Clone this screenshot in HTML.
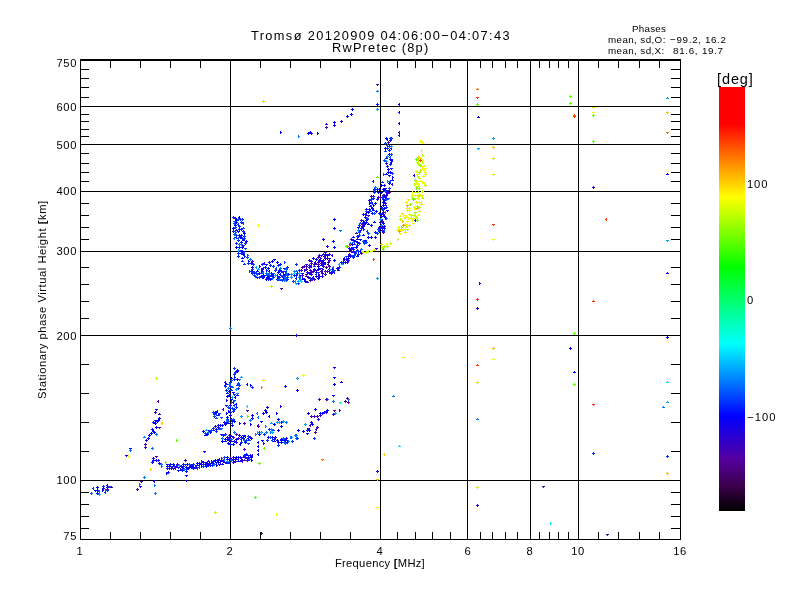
<!DOCTYPE html>
<html><head><meta charset="utf-8"><title>ionogram</title>
<style>
html,body{margin:0;padding:0;background:#fff;}
body{width:800px;height:600px;position:relative;overflow:hidden;font-family:"Liberation Sans",sans-serif;color:#000;}
svg{position:absolute;left:0;top:0;}
.t{position:absolute;white-space:pre;line-height:1;}
.t,.yl,.xl{will-change:transform;}
.yl{position:absolute;white-space:pre;line-height:1;font-size:11.2px;text-align:right;width:60px;left:16.7px;letter-spacing:0.6px;}
.xl{position:absolute;white-space:pre;line-height:1;font-size:11.2px;text-align:center;width:40px;top:545.5px;letter-spacing:0.6px;margin-left:0.3px;}
.cb{position:absolute;left:719px;top:87px;width:26px;height:424px;
background:linear-gradient(to bottom,#ff0000 0px,#ff0000 37px,#ff8000 73px,#ffff00 110px,#80ff00 146px,#00ff00 180px,#00ff80 219px,#00ffff 257px,#0080ff 293px,#0000ff 329px,#5500a0 372px,#3a0048 400px,#000000 424px);}
</style></head><body>
<svg width="800" height="600" viewBox="0 0 800 600" shape-rendering="crispEdges">
<rect x="80" y="59" width="601" height="2" fill="#000"/>
<rect x="80" y="539" width="601" height="1" fill="#000"/>
<rect x="80" y="59" width="1" height="481" fill="#000"/>
<rect x="680" y="59" width="1" height="481" fill="#000"/>
<rect x="230" y="59" width="1" height="481" fill="#000"/>
<rect x="380" y="59" width="1" height="481" fill="#000"/>
<rect x="467" y="59" width="1" height="481" fill="#000"/>
<rect x="530" y="59" width="1" height="481" fill="#000"/>
<rect x="578" y="59" width="1" height="481" fill="#000"/>
<rect x="80" y="480" width="601" height="1" fill="#000"/>
<rect x="80" y="335" width="601" height="1" fill="#000"/>
<rect x="80" y="251" width="601" height="1" fill="#000"/>
<rect x="80" y="191" width="601" height="1" fill="#000"/>
<rect x="80" y="144" width="601" height="1" fill="#000"/>
<rect x="80" y="106" width="601" height="1" fill="#000"/>
<rect x="110" y="61" width="1" height="7" fill="#000"/>
<rect x="110" y="532" width="1" height="7" fill="#000"/>
<rect x="140" y="61" width="1" height="7" fill="#000"/>
<rect x="140" y="532" width="1" height="7" fill="#000"/>
<rect x="170" y="61" width="1" height="7" fill="#000"/>
<rect x="170" y="532" width="1" height="7" fill="#000"/>
<rect x="200" y="61" width="1" height="7" fill="#000"/>
<rect x="200" y="532" width="1" height="7" fill="#000"/>
<rect x="260" y="61" width="1" height="7" fill="#000"/>
<rect x="260" y="532" width="1" height="7" fill="#000"/>
<rect x="290" y="61" width="1" height="7" fill="#000"/>
<rect x="290" y="532" width="1" height="7" fill="#000"/>
<rect x="320" y="61" width="1" height="7" fill="#000"/>
<rect x="320" y="532" width="1" height="7" fill="#000"/>
<rect x="350" y="61" width="1" height="7" fill="#000"/>
<rect x="350" y="532" width="1" height="7" fill="#000"/>
<rect x="397" y="61" width="1" height="7" fill="#000"/>
<rect x="397" y="532" width="1" height="7" fill="#000"/>
<rect x="415" y="61" width="1" height="7" fill="#000"/>
<rect x="415" y="532" width="1" height="7" fill="#000"/>
<rect x="432" y="61" width="1" height="7" fill="#000"/>
<rect x="432" y="532" width="1" height="7" fill="#000"/>
<rect x="450" y="61" width="1" height="7" fill="#000"/>
<rect x="450" y="532" width="1" height="7" fill="#000"/>
<rect x="480" y="61" width="1" height="7" fill="#000"/>
<rect x="480" y="532" width="1" height="7" fill="#000"/>
<rect x="492" y="61" width="1" height="7" fill="#000"/>
<rect x="492" y="532" width="1" height="7" fill="#000"/>
<rect x="505" y="61" width="1" height="7" fill="#000"/>
<rect x="505" y="532" width="1" height="7" fill="#000"/>
<rect x="517" y="61" width="1" height="7" fill="#000"/>
<rect x="517" y="532" width="1" height="7" fill="#000"/>
<rect x="539" y="61" width="1" height="7" fill="#000"/>
<rect x="539" y="532" width="1" height="7" fill="#000"/>
<rect x="549" y="61" width="1" height="7" fill="#000"/>
<rect x="549" y="532" width="1" height="7" fill="#000"/>
<rect x="558" y="61" width="1" height="7" fill="#000"/>
<rect x="558" y="532" width="1" height="7" fill="#000"/>
<rect x="568" y="61" width="1" height="7" fill="#000"/>
<rect x="568" y="532" width="1" height="7" fill="#000"/>
<rect x="598" y="61" width="1" height="7" fill="#000"/>
<rect x="598" y="532" width="1" height="7" fill="#000"/>
<rect x="618" y="61" width="1" height="7" fill="#000"/>
<rect x="618" y="532" width="1" height="7" fill="#000"/>
<rect x="639" y="61" width="1" height="7" fill="#000"/>
<rect x="639" y="532" width="1" height="7" fill="#000"/>
<rect x="659" y="61" width="1" height="7" fill="#000"/>
<rect x="659" y="532" width="1" height="7" fill="#000"/>
<rect x="81" y="528" width="8" height="1" fill="#000"/>
<rect x="671" y="528" width="9" height="1" fill="#000"/>
<rect x="81" y="516" width="8" height="1" fill="#000"/>
<rect x="671" y="516" width="9" height="1" fill="#000"/>
<rect x="81" y="504" width="8" height="1" fill="#000"/>
<rect x="671" y="504" width="9" height="1" fill="#000"/>
<rect x="81" y="492" width="8" height="1" fill="#000"/>
<rect x="671" y="492" width="9" height="1" fill="#000"/>
<rect x="81" y="451" width="8" height="1" fill="#000"/>
<rect x="671" y="451" width="9" height="1" fill="#000"/>
<rect x="81" y="422" width="8" height="1" fill="#000"/>
<rect x="671" y="422" width="9" height="1" fill="#000"/>
<rect x="81" y="393" width="8" height="1" fill="#000"/>
<rect x="671" y="393" width="9" height="1" fill="#000"/>
<rect x="81" y="364" width="8" height="1" fill="#000"/>
<rect x="671" y="364" width="9" height="1" fill="#000"/>
<rect x="81" y="318" width="8" height="1" fill="#000"/>
<rect x="671" y="318" width="9" height="1" fill="#000"/>
<rect x="81" y="301" width="8" height="1" fill="#000"/>
<rect x="671" y="301" width="9" height="1" fill="#000"/>
<rect x="81" y="284" width="8" height="1" fill="#000"/>
<rect x="671" y="284" width="9" height="1" fill="#000"/>
<rect x="81" y="267" width="8" height="1" fill="#000"/>
<rect x="671" y="267" width="9" height="1" fill="#000"/>
<rect x="81" y="239" width="8" height="1" fill="#000"/>
<rect x="671" y="239" width="9" height="1" fill="#000"/>
<rect x="81" y="227" width="8" height="1" fill="#000"/>
<rect x="671" y="227" width="9" height="1" fill="#000"/>
<rect x="81" y="215" width="8" height="1" fill="#000"/>
<rect x="671" y="215" width="9" height="1" fill="#000"/>
<rect x="81" y="203" width="8" height="1" fill="#000"/>
<rect x="671" y="203" width="9" height="1" fill="#000"/>
<rect x="81" y="181" width="8" height="1" fill="#000"/>
<rect x="671" y="181" width="9" height="1" fill="#000"/>
<rect x="81" y="172" width="8" height="1" fill="#000"/>
<rect x="671" y="172" width="9" height="1" fill="#000"/>
<rect x="81" y="163" width="8" height="1" fill="#000"/>
<rect x="671" y="163" width="9" height="1" fill="#000"/>
<rect x="81" y="153" width="8" height="1" fill="#000"/>
<rect x="671" y="153" width="9" height="1" fill="#000"/>
<rect x="81" y="136" width="8" height="1" fill="#000"/>
<rect x="671" y="136" width="9" height="1" fill="#000"/>
<rect x="81" y="129" width="8" height="1" fill="#000"/>
<rect x="671" y="129" width="9" height="1" fill="#000"/>
<rect x="81" y="121" width="8" height="1" fill="#000"/>
<rect x="671" y="121" width="9" height="1" fill="#000"/>
<rect x="81" y="114" width="8" height="1" fill="#000"/>
<rect x="671" y="114" width="9" height="1" fill="#000"/>
<rect x="81" y="97" width="8" height="1" fill="#000"/>
<rect x="671" y="97" width="9" height="1" fill="#000"/>
<rect x="81" y="87" width="8" height="1" fill="#000"/>
<rect x="671" y="87" width="9" height="1" fill="#000"/>
<rect x="81" y="78" width="8" height="1" fill="#000"/>
<rect x="671" y="78" width="9" height="1" fill="#000"/>
<rect x="81" y="69" width="8" height="1" fill="#000"/>
<rect x="671" y="69" width="9" height="1" fill="#000"/>
<path fill="#b4ff00" d="M262 101h3v1h-3zM263 100h1v3h-1zM492 158h3v1h-3zM493 157h1v3h-1zM492 174h3v1h-3zM493 175h1v1h-1zM476 382h3v1h-3zM477 381h1v3h-1zM476 487h3v1h-3zM477 486h1v3h-1zM214 512h3v1h-3zM215 511h1v3h-1zM270 286h3v1h-3zM271 285h1v3h-1zM155 378h3v1h-3zM156 377h1v3h-1zM365 252h3v1h-3zM366 251h1v3h-1zM368 250h1v3h-1zM367 251h1v1h-1zM374 249h3v1h-3zM375 248h1v3h-1zM381 247h3v1h-3zM382 246h1v3h-1zM383 246h3v1h-3zM384 245h1v3h-1zM386 246h3v1h-3zM387 245h1v3h-1zM390 242h1v3h-1zM391 243h1v1h-1zM422 161h1v3h-1zM423 162h1v1h-1zM414 198h3v1h-3zM415 199h1v1h-1zM405 227h3v1h-3zM406 226h1v1h-1zM399 219h3v1h-3zM400 218h1v3h-1zM414 183h1v3h-1zM415 184h1v1h-1zM417 164h3v1h-3zM418 163h1v3h-1zM406 229h3v1h-3zM407 230h1v1h-1zM424 185h3v1h-3zM425 184h1v3h-1zM417 192h3v1h-3zM418 191h1v1h-1zM416 206h3v1h-3zM417 205h1v3h-1zM417 176h3v1h-3zM418 177h1v1h-1zM420 169h1v3h-1zM421 170h1v1h-1zM411 197h3v1h-3zM412 196h1v3h-1zM413 215h3v1h-3zM414 214h1v3h-1zM410 215h3v1h-3zM411 214h1v3h-1zM415 217h3v1h-3zM416 216h1v3h-1zM417 196h3v1h-3zM418 195h1v3h-1zM418 207h3v1h-3zM419 206h1v3h-1zM421 191h3v1h-3zM422 190h1v3h-1zM416 186h3v1h-3zM417 187h1v1h-1z"/>
<path fill="#0000ff" d="M280 131h1v3h-1zM281 132h1v1h-1zM307 133h3v1h-3zM308 132h1v3h-1zM309 132h3v1h-3zM310 131h1v3h-1zM317 132h1v3h-1zM318 133h1v1h-1zM333 122h3v1h-3zM334 121h1v3h-1zM346 116h3v1h-3zM347 115h1v3h-1zM350 114h3v1h-3zM351 113h1v3h-1zM351 109h3v1h-3zM352 108h1v3h-1zM376 104h3v1h-3zM377 103h1v3h-1zM399 103h1v3h-1zM398 104h1v1h-1zM399 111h1v3h-1zM398 112h1v1h-1zM399 122h1v3h-1zM398 123h1v1h-1zM387 138h1v3h-1zM386 139h1v1h-1zM391 137h1v3h-1zM392 138h1v1h-1zM477 117h3v1h-3zM478 116h1v1h-1zM666 174h3v1h-3zM667 173h1v1h-1zM479 282h1v3h-1zM480 283h1v1h-1zM569 348h3v1h-3zM570 347h1v3h-1zM666 273h3v1h-3zM667 272h1v1h-1zM573 372h3v1h-3zM574 371h1v1h-1zM666 337h3v1h-3zM667 336h1v3h-1zM295 335h3v1h-3zM296 334h1v3h-1zM333 260h3v1h-3zM334 259h1v3h-1zM284 386h3v1h-3zM285 385h1v3h-1zM296 390h3v1h-3zM297 389h1v3h-1zM333 367h3v1h-3zM334 368h1v1h-1zM333 377h3v1h-3zM334 378h1v1h-1zM333 384h3v1h-3zM334 383h1v3h-1zM340 382h3v1h-3zM341 381h1v1h-1zM332 395h3v1h-3zM333 396h1v1h-1zM333 219h3v1h-3zM334 218h1v3h-1zM333 228h3v1h-3zM334 227h1v3h-1zM322 239h3v1h-3zM323 238h1v3h-1zM332 241h3v1h-3zM333 240h1v3h-1zM333 247h3v1h-3zM334 246h1v3h-1zM147 438h3v1h-3zM148 437h1v3h-1zM148 435h3v1h-3zM149 434h1v3h-1zM150 433h3v1h-3zM151 432h1v3h-1zM152 431h3v1h-3zM153 430h1v3h-1zM153 432h3v1h-3zM154 431h1v3h-1zM151 429h3v1h-3zM152 428h1v3h-1zM155 427h3v1h-3zM156 426h1v3h-1zM152 422h3v1h-3zM153 421h1v3h-1zM154 423h3v1h-3zM155 422h1v3h-1zM156 421h3v1h-3zM157 420h1v3h-1zM154 420h3v1h-3zM155 421h1v1h-1zM158 418h3v1h-3zM159 417h1v3h-1zM157 420h3v1h-3zM158 419h1v3h-1zM155 409h3v1h-3zM156 410h1v1h-1zM152 460h3v1h-3zM153 459h1v3h-1zM151 462h3v1h-3zM152 461h1v3h-1zM155 460h3v1h-3zM156 459h1v3h-1zM158 463h3v1h-3zM159 462h1v3h-1zM185 471h3v1h-3zM186 470h1v3h-1zM185 475h3v1h-3zM186 476h1v1h-1zM185 480h3v1h-3zM186 481h1v1h-1zM166 472h1v3h-1zM167 473h1v1h-1zM167 472h3v1h-3zM168 471h1v3h-1zM129 448h3v1h-3zM130 449h1v1h-1zM125 455h3v1h-3zM126 456h1v1h-1zM203 451h3v1h-3zM204 452h1v1h-1zM225 381h1v3h-1zM224 382h1v1h-1zM225 384h1v3h-1zM224 385h1v1h-1zM247 383h1v3h-1zM246 384h1v1h-1zM250 384h1v3h-1zM251 385h1v1h-1zM251 415h3v1h-3zM252 414h1v3h-1zM251 418h3v1h-3zM252 417h1v3h-1zM239 422h1v3h-1zM240 423h1v1h-1zM260 421h3v1h-3zM261 422h1v1h-1zM266 407h3v1h-3zM267 406h1v3h-1zM264 410h3v1h-3zM265 409h1v3h-1zM265 412h3v1h-3zM266 411h1v3h-1zM262 413h3v1h-3zM263 412h1v3h-1zM269 415h1v3h-1zM268 416h1v1h-1zM276 412h1v3h-1zM277 413h1v1h-1zM277 419h3v1h-3zM278 418h1v3h-1zM280 422h3v1h-3zM281 421h1v3h-1zM273 424h3v1h-3zM274 423h1v3h-1zM280 426h3v1h-3zM281 425h1v3h-1zM314 409h3v1h-3zM315 408h1v3h-1zM307 413h3v1h-3zM308 412h1v3h-1zM319 413h3v1h-3zM320 412h1v3h-1zM323 412h3v1h-3zM324 411h1v3h-1zM325 411h3v1h-3zM326 410h1v3h-1zM326 410h3v1h-3zM327 409h1v3h-1zM311 424h3v1h-3zM312 423h1v3h-1zM302 431h3v1h-3zM303 430h1v3h-1zM298 429h1v3h-1zM299 430h1v1h-1zM308 430h3v1h-3zM309 429h1v3h-1zM306 433h3v1h-3zM307 434h1v1h-1zM280 439h3v1h-3zM281 438h1v3h-1zM282 438h3v1h-3zM283 437h1v3h-1zM284 440h3v1h-3zM285 439h1v3h-1zM285 438h3v1h-3zM286 437h1v3h-1zM286 442h3v1h-3zM287 441h1v3h-1zM297 430h3v1h-3zM298 429h1v3h-1zM277 430h3v1h-3zM278 429h1v3h-1zM258 441h1v3h-1zM257 442h1v1h-1zM258 445h1v3h-1zM257 446h1v1h-1zM258 449h1v3h-1zM257 450h1v1h-1zM258 453h1v3h-1zM257 454h1v1h-1zM261 440h3v1h-3zM262 441h1v1h-1zM239 216h1v3h-1zM238 217h1v1h-1zM235 220h3v1h-3zM236 219h1v1h-1zM240 242h3v1h-3zM241 241h1v3h-1zM236 236h1v3h-1zM235 237h1v1h-1zM234 225h3v1h-3zM235 224h1v3h-1zM243 233h3v1h-3zM244 232h1v3h-1zM235 247h3v1h-3zM236 246h1v3h-1zM232 228h3v1h-3zM233 227h1v3h-1zM235 222h3v1h-3zM236 221h1v3h-1zM242 240h3v1h-3zM243 239h1v1h-1zM238 229h3v1h-3zM239 228h1v3h-1zM239 237h3v1h-3zM240 236h1v3h-1zM238 235h3v1h-3zM239 234h1v3h-1zM241 247h3v1h-3zM242 246h1v3h-1zM235 230h3v1h-3zM236 229h1v1h-1zM237 231h3v1h-3zM238 232h1v1h-1zM245 241h3v1h-3zM246 240h1v3h-1zM241 258h3v1h-3zM242 257h1v1h-1zM251 267h3v1h-3zM252 266h1v3h-1zM241 251h3v1h-3zM242 250h1v3h-1zM248 260h1v3h-1zM249 261h1v1h-1zM250 263h3v1h-3zM251 262h1v3h-1zM242 254h3v1h-3zM243 253h1v3h-1zM278 277h3v1h-3zM279 276h1v1h-1zM267 268h3v1h-3zM268 267h1v3h-1zM266 269h1v3h-1zM267 270h1v1h-1zM280 273h1v3h-1zM279 274h1v1h-1zM269 270h1v3h-1zM268 271h1v1h-1zM277 272h3v1h-3zM278 271h1v3h-1zM276 262h3v1h-3zM277 261h1v3h-1zM287 274h3v1h-3zM288 273h1v3h-1zM263 267h1v3h-1zM262 268h1v1h-1zM263 275h3v1h-3zM264 276h1v1h-1zM256 271h3v1h-3zM257 270h1v1h-1zM267 278h3v1h-3zM268 277h1v3h-1zM261 275h1v3h-1zM260 276h1v1h-1zM270 273h3v1h-3zM271 272h1v1h-1zM273 259h3v1h-3zM274 260h1v1h-1zM264 267h3v1h-3zM265 266h1v3h-1zM282 279h3v1h-3zM283 278h1v3h-1zM271 261h3v1h-3zM272 260h1v3h-1zM269 279h3v1h-3zM270 278h1v3h-1zM270 279h3v1h-3zM271 278h1v1h-1zM272 277h3v1h-3zM273 276h1v3h-1zM253 273h3v1h-3zM254 272h1v3h-1zM281 276h3v1h-3zM282 275h1v3h-1zM276 279h3v1h-3zM277 278h1v3h-1zM266 277h3v1h-3zM267 276h1v3h-1zM262 275h3v1h-3zM263 274h1v3h-1zM261 271h3v1h-3zM262 270h1v3h-1zM258 273h3v1h-3zM259 272h1v3h-1zM256 277h3v1h-3zM257 278h1v1h-1zM315 276h3v1h-3zM316 275h1v3h-1zM322 268h1v3h-1zM323 269h1v1h-1zM326 255h3v1h-3zM327 254h1v3h-1zM304 281h3v1h-3zM305 280h1v3h-1zM322 262h3v1h-3zM323 261h1v3h-1zM301 273h3v1h-3zM302 274h1v1h-1zM317 269h3v1h-3zM318 268h1v3h-1zM320 265h3v1h-3zM321 264h1v1h-1zM315 261h1v3h-1zM314 262h1v1h-1zM308 273h3v1h-3zM309 272h1v3h-1zM328 258h3v1h-3zM329 259h1v1h-1zM303 279h3v1h-3zM304 278h1v3h-1zM318 260h3v1h-3zM319 259h1v3h-1zM317 266h3v1h-3zM318 265h1v3h-1zM312 258h3v1h-3zM313 257h1v3h-1zM315 259h3v1h-3zM316 258h1v3h-1zM316 271h1v3h-1zM315 272h1v1h-1zM317 278h3v1h-3zM318 277h1v3h-1zM356 256h3v1h-3zM357 255h1v1h-1zM359 251h3v1h-3zM360 250h1v3h-1zM337 270h3v1h-3zM338 269h1v1h-1zM342 262h3v1h-3zM343 261h1v3h-1zM344 257h1v3h-1zM343 258h1v1h-1zM352 249h3v1h-3zM353 248h1v3h-1zM375 211h3v1h-3zM376 210h1v3h-1zM366 213h1v3h-1zM365 214h1v1h-1zM380 214h3v1h-3zM381 213h1v3h-1zM372 212h1v3h-1zM371 213h1v1h-1zM373 222h3v1h-3zM374 221h1v1h-1zM374 203h3v1h-3zM375 202h1v3h-1zM359 239h3v1h-3zM360 240h1v1h-1zM382 205h3v1h-3zM383 204h1v3h-1zM370 225h3v1h-3zM371 224h1v3h-1zM370 237h3v1h-3zM371 236h1v3h-1zM366 219h3v1h-3zM367 218h1v3h-1zM380 219h3v1h-3zM381 220h1v1h-1zM350 248h3v1h-3zM351 247h1v3h-1zM371 208h3v1h-3zM372 207h1v3h-1zM379 230h1v3h-1zM378 231h1v1h-1zM386 210h3v1h-3zM387 211h1v1h-1zM367 237h3v1h-3zM368 236h1v3h-1zM355 247h3v1h-3zM356 246h1v3h-1zM364 223h1v3h-1zM365 224h1v1h-1zM372 210h3v1h-3zM373 209h1v1h-1zM367 224h3v1h-3zM368 223h1v1h-1zM380 227h3v1h-3zM381 226h1v3h-1zM380 225h3v1h-3zM381 224h1v3h-1zM364 240h3v1h-3zM365 241h1v1h-1zM381 222h3v1h-3zM382 221h1v3h-1zM365 220h3v1h-3zM366 219h1v3h-1zM362 214h3v1h-3zM363 213h1v3h-1zM369 202h1v3h-1zM370 203h1v1h-1zM349 244h3v1h-3zM350 243h1v3h-1zM363 220h1v3h-1zM364 221h1v1h-1zM352 243h1v3h-1zM351 244h1v1h-1zM357 227h3v1h-3zM358 228h1v1h-1zM365 222h3v1h-3zM366 221h1v3h-1zM369 206h3v1h-3zM370 205h1v1h-1zM352 237h3v1h-3zM353 236h1v1h-1zM376 189h3v1h-3zM377 188h1v3h-1zM356 242h3v1h-3zM357 241h1v3h-1zM367 212h3v1h-3zM368 211h1v3h-1zM352 240h3v1h-3zM353 239h1v3h-1zM348 248h3v1h-3zM349 247h1v3h-1zM354 241h3v1h-3zM355 240h1v1h-1zM358 232h3v1h-3zM359 231h1v3h-1zM362 226h3v1h-3zM363 225h1v3h-1zM383 196h1v3h-1zM384 197h1v1h-1zM383 200h3v1h-3zM384 199h1v3h-1zM382 205h3v1h-3zM383 204h1v3h-1zM382 202h3v1h-3zM383 201h1v3h-1zM383 208h3v1h-3zM384 207h1v3h-1zM383 226h3v1h-3zM384 225h1v3h-1zM386 193h3v1h-3zM387 192h1v3h-1zM379 227h3v1h-3zM380 228h1v1h-1zM383 190h3v1h-3zM384 189h1v3h-1zM380 207h3v1h-3zM381 206h1v3h-1zM382 223h3v1h-3zM383 222h1v3h-1zM385 191h3v1h-3zM386 190h1v3h-1zM380 216h3v1h-3zM381 215h1v3h-1zM384 148h3v1h-3zM385 147h1v3h-1zM382 199h3v1h-3zM383 198h1v3h-1zM389 159h3v1h-3zM390 158h1v3h-1zM378 189h3v1h-3zM379 188h1v3h-1zM387 172h3v1h-3zM388 171h1v3h-1zM380 185h3v1h-3zM381 184h1v3h-1zM380 192h3v1h-3zM381 191h1v3h-1zM385 174h3v1h-3zM386 173h1v1h-1zM392 159h1v3h-1zM391 160h1v1h-1zM385 158h3v1h-3zM386 157h1v1h-1zM388 183h3v1h-3zM389 182h1v3h-1zM382 189h3v1h-3zM383 188h1v3h-1zM384 188h3v1h-3zM385 189h1v1h-1zM389 140h3v1h-3zM390 139h1v3h-1zM391 161h1v3h-1zM390 162h1v1h-1zM392 176h1v3h-1zM393 177h1v1h-1zM389 172h3v1h-3zM390 171h1v3h-1zM385 138h3v1h-3zM386 137h1v3h-1zM388 154h3v1h-3zM389 153h1v3h-1zM391 147h1v3h-1zM390 148h1v1h-1zM96 487h3v1h-3zM97 486h1v3h-1zM94 490h3v1h-3zM95 491h1v1h-1zM97 489h1v3h-1zM98 490h1v1h-1zM96 493h3v1h-3zM97 492h1v3h-1zM102 488h3v1h-3zM103 487h1v3h-1zM107 484h1v3h-1zM106 485h1v1h-1zM189 465h1v3h-1zM190 466h1v1h-1zM201 465h1v3h-1zM202 466h1v1h-1zM217 462h3v1h-3zM218 461h1v3h-1zM232 459h3v1h-3zM233 458h1v3h-1zM237 461h3v1h-3zM238 460h1v1h-1zM248 457h3v1h-3zM249 458h1v1h-1zM238 458h1v3h-1zM237 459h1v1h-1zM247 455h3v1h-3zM248 456h1v1h-1zM241 458h1v3h-1zM242 459h1v1h-1zM229 459h1v3h-1zM230 460h1v1h-1zM204 464h3v1h-3zM205 463h1v3h-1zM185 467h3v1h-3zM186 466h1v3h-1zM166 464h3v1h-3zM167 465h1v1h-1zM172 464h3v1h-3zM173 463h1v3h-1zM215 462h3v1h-3zM216 463h1v1h-1zM220 460h3v1h-3zM221 459h1v3h-1zM206 463h3v1h-3zM207 462h1v3h-1zM204 462h3v1h-3zM205 463h1v1h-1zM193 465h1v3h-1zM192 466h1v1h-1zM226 459h3v1h-3zM227 458h1v3h-1zM250 457h3v1h-3zM251 456h1v3h-1zM214 460h3v1h-3zM215 459h1v3h-1zM207 465h3v1h-3zM208 464h1v3h-1zM249 455h3v1h-3zM250 454h1v3h-1zM207 461h3v1h-3zM208 460h1v1h-1zM221 464h3v1h-3zM222 463h1v1h-1zM200 464h3v1h-3zM201 463h1v3h-1zM196 463h3v1h-3zM197 462h1v3h-1zM187 468h3v1h-3zM188 467h1v3h-1zM211 463h3v1h-3zM212 462h1v3h-1zM251 459h1v3h-1zM252 460h1v1h-1zM235 457h3v1h-3zM236 456h1v3h-1zM211 460h1v3h-1zM212 461h1v1h-1zM190 465h3v1h-3zM191 464h1v3h-1zM199 464h1v3h-1zM198 465h1v1h-1zM198 463h3v1h-3zM199 462h1v1h-1zM190 467h3v1h-3zM191 466h1v3h-1zM216 464h1v3h-1zM217 465h1v1h-1zM219 458h1v3h-1zM218 459h1v1h-1zM238 456h1v3h-1zM237 457h1v1h-1zM245 454h3v1h-3zM246 453h1v3h-1zM186 464h3v1h-3zM187 463h1v3h-1zM226 457h3v1h-3zM227 456h1v3h-1zM182 467h1v3h-1zM183 468h1v1h-1zM168 468h3v1h-3zM169 467h1v3h-1zM226 393h3v1h-3zM227 392h1v1h-1zM236 403h1v3h-1zM235 404h1v1h-1zM230 378h3v1h-3zM231 377h1v3h-1zM234 376h1v3h-1zM235 377h1v1h-1zM226 417h3v1h-3zM227 416h1v3h-1zM226 396h3v1h-3zM227 395h1v3h-1zM229 415h3v1h-3zM230 414h1v3h-1zM235 396h1v3h-1zM234 397h1v1h-1zM226 419h3v1h-3zM227 418h1v3h-1zM229 390h1v3h-1zM228 391h1v1h-1zM226 412h1v3h-1zM227 413h1v1h-1zM230 399h3v1h-3zM231 400h1v1h-1zM236 395h3v1h-3zM237 394h1v1h-1zM228 410h1v3h-1zM229 411h1v1h-1zM236 370h3v1h-3zM237 369h1v3h-1zM228 395h3v1h-3zM229 394h1v3h-1zM225 384h3v1h-3zM226 383h1v1h-1zM221 425h3v1h-3zM222 424h1v3h-1zM224 424h3v1h-3zM225 423h1v3h-1zM227 423h3v1h-3zM228 422h1v1h-1zM208 430h3v1h-3zM209 431h1v1h-1zM225 422h3v1h-3zM226 421h1v3h-1zM202 431h3v1h-3zM203 430h1v3h-1zM212 430h3v1h-3zM213 429h1v1h-1zM219 425h3v1h-3zM220 424h1v3h-1zM204 435h3v1h-3zM205 434h1v1h-1zM209 432h3v1h-3zM210 431h1v3h-1zM218 424h1v3h-1zM217 425h1v1h-1zM206 434h3v1h-3zM207 433h1v3h-1zM214 412h3v1h-3zM215 411h1v3h-1zM217 410h1v3h-1zM216 411h1v1h-1zM250 423h1v3h-1zM251 424h1v1h-1zM250 438h3v1h-3zM251 437h1v3h-1zM224 441h3v1h-3zM225 440h1v1h-1zM245 435h1v3h-1zM244 436h1v1h-1zM227 443h3v1h-3zM228 442h1v3h-1zM226 439h3v1h-3zM227 438h1v3h-1zM221 441h3v1h-3zM222 440h1v3h-1zM240 437h3v1h-3zM241 436h1v3h-1zM233 441h3v1h-3zM234 440h1v3h-1zM248 437h1v3h-1zM247 438h1v1h-1zM240 443h1v3h-1zM239 444h1v1h-1zM242 438h3v1h-3zM243 437h1v3h-1zM230 441h3v1h-3zM231 440h1v1h-1zM238 435h3v1h-3zM239 434h1v3h-1zM244 442h3v1h-3zM245 441h1v3h-1zM230 436h3v1h-3zM231 435h1v1h-1zM224 439h3v1h-3zM225 438h1v3h-1zM242 435h3v1h-3zM243 436h1v1h-1zM258 434h3v1h-3zM259 435h1v1h-1zM280 440h3v1h-3zM281 439h1v3h-1zM280 442h3v1h-3zM281 441h1v3h-1zM267 437h3v1h-3zM268 436h1v3h-1zM283 440h3v1h-3zM284 439h1v1h-1zM273 441h3v1h-3zM274 440h1v1h-1zM271 437h3v1h-3zM272 436h1v3h-1zM276 440h3v1h-3zM277 439h1v3h-1zM234 420h1v3h-1zM235 421h1v1h-1zM231 421h3v1h-3zM232 420h1v1h-1z"/>
<path fill="#0078ff" d="M298 135h1v3h-1zM299 136h1v1h-1zM376 91h3v1h-3zM377 90h1v1h-1zM392 396h3v1h-3zM393 395h1v1h-1zM476 419h3v1h-3zM477 418h1v1h-1zM662 407h3v1h-3zM663 406h1v1h-1zM229 328h3v1h-3zM230 327h1v3h-1zM332 401h3v1h-3zM333 400h1v3h-1zM326 399h3v1h-3zM327 398h1v3h-1zM347 399h3v1h-3zM348 398h1v3h-1zM339 230h3v1h-3zM340 231h1v1h-1zM350 242h1v3h-1zM351 243h1v1h-1zM373 190h3v1h-3zM374 189h1v3h-1zM374 187h3v1h-3zM375 186h1v3h-1zM143 437h3v1h-3zM144 436h1v1h-1zM155 434h3v1h-3zM156 433h1v3h-1zM151 448h3v1h-3zM152 447h1v3h-1zM160 464h3v1h-3zM161 463h1v3h-1zM161 465h1v3h-1zM162 466h1v1h-1zM143 477h3v1h-3zM144 476h1v3h-1zM139 483h1v3h-1zM140 484h1v1h-1zM154 484h1v3h-1zM155 485h1v1h-1zM154 493h3v1h-3zM155 492h1v3h-1zM129 450h3v1h-3zM130 449h1v3h-1zM249 420h3v1h-3zM250 419h1v3h-1zM257 412h1v3h-1zM256 413h1v1h-1zM258 416h1v3h-1zM257 417h1v1h-1zM265 425h1v3h-1zM266 426h1v1h-1zM285 422h3v1h-3zM286 421h1v3h-1zM295 435h3v1h-3zM296 434h1v3h-1zM295 438h3v1h-3zM296 437h1v3h-1zM290 436h1v3h-1zM291 437h1v1h-1zM291 441h3v1h-3zM292 440h1v3h-1zM284 443h3v1h-3zM285 442h1v3h-1zM291 436h1v3h-1zM292 437h1v1h-1zM294 435h3v1h-3zM295 434h1v3h-1zM99 490h1v3h-1zM98 491h1v1h-1zM228 384h3v1h-3zM229 383h1v3h-1zM231 401h1v3h-1zM232 402h1v1h-1zM236 393h3v1h-3zM237 394h1v1h-1zM227 388h3v1h-3zM228 387h1v3h-1zM238 379h3v1h-3zM239 380h1v1h-1zM226 419h1v3h-1zM227 420h1v1h-1zM207 432h3v1h-3zM208 431h1v3h-1zM271 432h3v1h-3zM272 431h1v3h-1zM270 431h1v3h-1zM271 432h1v1h-1zM265 432h3v1h-3zM266 431h1v3h-1zM255 433h1v3h-1zM256 434h1v1h-1zM282 438h3v1h-3zM283 437h1v3h-1zM288 440h1v3h-1zM289 441h1v1h-1z"/>
<path fill="#2800e8" d="M310 133h3v1h-3zM311 132h1v3h-1zM325 124h3v1h-3zM326 123h1v1h-1zM333 125h3v1h-3zM334 124h1v3h-1zM340 121h3v1h-3zM341 120h1v3h-1zM399 131h1v3h-1zM398 132h1v1h-1zM592 187h3v1h-3zM593 186h1v3h-1zM476 308h3v1h-3zM477 307h1v3h-1zM476 505h3v1h-3zM477 504h1v3h-1zM376 471h3v1h-3zM377 470h1v3h-1zM332 254h1v3h-1zM331 255h1v1h-1zM326 246h3v1h-3zM327 245h1v3h-1zM373 180h1v3h-1zM372 181h1v1h-1zM145 440h3v1h-3zM146 439h1v3h-1zM152 458h3v1h-3zM153 457h1v3h-1zM157 460h3v1h-3zM158 459h1v3h-1zM184 460h3v1h-3zM185 459h1v3h-1zM139 486h3v1h-3zM140 487h1v1h-1zM154 480h1v3h-1zM153 481h1v1h-1zM236 371h3v1h-3zM237 370h1v3h-1zM280 405h1v3h-1zM281 406h1v1h-1zM321 413h3v1h-3zM322 412h1v3h-1zM325 412h3v1h-3zM326 411h1v3h-1zM319 415h3v1h-3zM320 414h1v3h-1zM317 419h3v1h-3zM318 418h1v3h-1zM310 422h3v1h-3zM311 421h1v3h-1zM307 428h3v1h-3zM308 429h1v1h-1zM306 430h3v1h-3zM307 429h1v3h-1zM263 442h1v3h-1zM264 443h1v1h-1z"/>
<path fill="#4c00b4" d="M325 127h3v1h-3zM326 126h1v3h-1zM376 84h3v1h-3zM377 85h1v1h-1zM399 134h1v3h-1zM398 135h1v1h-1zM542 486h3v1h-3zM543 487h1v1h-1zM606 534h3v1h-3zM607 535h1v1h-1zM280 288h3v1h-3zM281 289h1v1h-1zM324 252h3v1h-3zM325 251h1v3h-1zM158 400h1v3h-1zM157 401h1v1h-1zM318 399h3v1h-3zM319 398h1v3h-1zM325 399h3v1h-3zM326 398h1v3h-1zM346 398h3v1h-3zM347 397h1v1h-1zM344 401h3v1h-3zM345 400h1v3h-1zM347 402h3v1h-3zM348 401h1v3h-1zM350 239h3v1h-3zM351 238h1v3h-1zM375 248h3v1h-3zM376 249h1v1h-1zM110 487h3v1h-3zM111 486h1v1h-1zM144 447h3v1h-3zM145 446h1v3h-1zM144 444h3v1h-3zM145 443h1v3h-1zM158 427h3v1h-3zM159 428h1v1h-1zM154 412h3v1h-3zM155 411h1v3h-1zM158 414h3v1h-3zM159 413h1v1h-1zM155 456h3v1h-3zM156 457h1v1h-1zM140 481h3v1h-3zM141 482h1v1h-1zM136 489h3v1h-3zM137 488h1v3h-1zM243 449h3v1h-3zM244 448h1v3h-1zM246 410h3v1h-3zM247 411h1v1h-1zM243 423h3v1h-3zM244 422h1v3h-1zM258 424h1v3h-1zM257 425h1v1h-1zM310 416h3v1h-3zM311 415h1v3h-1zM313 416h3v1h-3zM314 415h1v3h-1zM316 416h3v1h-3zM317 415h1v3h-1zM339 409h1v3h-1zM340 410h1v1h-1zM332 414h3v1h-3zM333 413h1v3h-1zM310 424h1v3h-1zM309 425h1v1h-1zM317 426h1v3h-1zM318 427h1v1h-1zM314 432h3v1h-3zM315 431h1v3h-1zM316 428h1v3h-1zM315 429h1v1h-1zM316 427h3v1h-3zM317 426h1v3h-1zM257 426h3v1h-3zM258 425h1v3h-1zM223 408h1v3h-1zM222 409h1v1h-1z"/>
<path fill="#00a4ff" d="M376 109h3v1h-3zM377 108h1v3h-1zM477 148h3v1h-3zM478 149h1v1h-1zM492 138h3v1h-3zM493 137h1v3h-1zM666 98h3v1h-3zM667 97h1v1h-1zM666 240h3v1h-3zM667 241h1v1h-1zM666 402h3v1h-3zM667 401h1v1h-1zM376 278h3v1h-3zM377 277h1v3h-1zM328 260h1v3h-1zM329 261h1v1h-1zM296 378h3v1h-3zM297 377h1v3h-1zM240 377h3v1h-3zM241 376h1v1h-1zM240 416h3v1h-3zM241 415h1v3h-1zM270 423h3v1h-3zM271 422h1v1h-1zM276 422h3v1h-3zM277 421h1v3h-1zM278 422h3v1h-3zM279 421h1v3h-1zM282 421h3v1h-3zM283 420h1v3h-1zM334 413h3v1h-3zM335 412h1v3h-1zM304 424h3v1h-3zM305 423h1v3h-1z"/>
<path fill="#ff7000" d="M476 89h3v1h-3zM477 88h1v1h-1zM573 115h3v1h-3zM574 114h1v1h-1zM666 132h3v1h-3zM667 133h1v1h-1zM321 459h3v1h-3zM322 460h1v1h-1zM261 386h1v3h-1zM262 387h1v1h-1zM347 245h1v3h-1zM348 246h1v1h-1z"/>
<path fill="#ff3000" d="M476 97h3v1h-3zM477 98h1v1h-1zM573 116h3v1h-3zM574 117h1v1h-1zM492 224h3v1h-3zM493 225h1v1h-1zM476 299h3v1h-3zM477 298h1v3h-1zM592 301h3v1h-3zM593 300h1v1h-1zM606 218h1v3h-1zM605 219h1v1h-1zM476 365h3v1h-3zM477 364h1v1h-1zM592 404h3v1h-3zM593 405h1v1h-1zM373 258h1v3h-1zM374 259h1v1h-1zM349 243h1v3h-1zM350 244h1v1h-1z"/>
<path fill="#60ff00" d="M476 104h3v1h-3zM477 103h1v3h-1zM569 96h3v1h-3zM570 95h1v3h-1zM569 103h3v1h-3zM570 102h1v3h-1zM592 115h3v1h-3zM593 114h1v3h-1zM592 141h3v1h-3zM593 140h1v3h-1zM573 333h3v1h-3zM574 332h1v3h-1zM573 384h3v1h-3zM574 383h1v3h-1zM254 497h3v1h-3zM255 496h1v3h-1zM176 439h1v3h-1zM177 440h1v1h-1zM346 245h1v3h-1zM345 246h1v1h-1zM382 249h3v1h-3zM383 248h1v3h-1zM376 177h3v1h-3zM377 176h1v1h-1zM165 461h1v3h-1zM166 462h1v1h-1zM258 463h3v1h-3zM259 462h1v3h-1zM247 415h1v3h-1zM248 416h1v1h-1zM264 447h1v3h-1zM263 448h1v1h-1z"/>
<path fill="#ffc400" d="M492 147h3v1h-3zM493 146h1v3h-1zM666 112h3v1h-3zM667 111h1v3h-1zM492 348h3v1h-3zM493 347h1v3h-1zM384 453h1v3h-1zM383 454h1v1h-1zM666 473h3v1h-3zM667 472h1v3h-1zM376 479h3v1h-3zM377 480h1v1h-1zM361 250h1v3h-1zM362 251h1v1h-1zM380 244h3v1h-3zM381 243h1v3h-1zM162 422h1v3h-1zM161 423h1v1h-1zM150 468h1v3h-1zM151 469h1v1h-1z"/>
<path fill="#f4ff00" d="M592 107h3v1h-3zM593 108h1v1h-1zM592 112h3v1h-3zM593 111h1v3h-1zM492 239h3v1h-3zM493 240h1v1h-1zM492 359h3v1h-3zM493 358h1v1h-1zM402 357h3v1h-3zM403 356h1v1h-1zM276 513h1v3h-1zM277 514h1v1h-1zM376 507h3v1h-3zM377 506h1v3h-1zM258 224h1v3h-1zM257 225h1v1h-1zM262 380h3v1h-3zM263 379h1v3h-1zM302 375h3v1h-3zM303 374h1v3h-1zM362 252h3v1h-3zM363 251h1v3h-1zM370 251h3v1h-3zM371 250h1v3h-1zM372 250h3v1h-3zM373 249h1v1h-1zM385 244h3v1h-3zM386 243h1v1h-1zM128 455h1v3h-1zM129 456h1v1h-1zM402 229h3v1h-3zM403 228h1v3h-1zM413 207h3v1h-3zM414 206h1v3h-1zM417 215h3v1h-3zM418 214h1v1h-1zM405 216h3v1h-3zM406 215h1v3h-1zM418 202h3v1h-3zM419 201h1v3h-1zM419 181h3v1h-3zM420 180h1v1h-1zM397 227h3v1h-3zM398 226h1v3h-1zM406 225h3v1h-3zM407 224h1v3h-1zM417 184h3v1h-3zM418 183h1v3h-1zM399 233h3v1h-3zM400 234h1v1h-1zM414 195h3v1h-3zM415 194h1v3h-1zM407 218h3v1h-3zM408 217h1v3h-1zM417 193h1v3h-1zM418 194h1v1h-1zM416 181h3v1h-3zM417 180h1v3h-1zM403 214h1v3h-1zM404 215h1v1h-1zM403 218h3v1h-3zM404 217h1v1h-1zM406 221h3v1h-3zM407 222h1v1h-1zM422 176h3v1h-3zM423 175h1v3h-1zM412 223h3v1h-3zM413 224h1v1h-1zM421 168h3v1h-3zM422 167h1v3h-1zM408 214h3v1h-3zM409 213h1v3h-1zM423 183h3v1h-3zM424 182h1v3h-1zM423 165h3v1h-3zM424 166h1v1h-1zM415 171h3v1h-3zM416 170h1v3h-1zM424 168h3v1h-3zM425 167h1v1h-1zM405 202h3v1h-3zM406 201h1v3h-1zM400 230h3v1h-3zM401 229h1v3h-1zM421 142h3v1h-3zM422 141h1v3h-1zM417 198h3v1h-3zM418 197h1v3h-1zM419 141h3v1h-3zM420 140h1v3h-1zM411 192h3v1h-3zM412 191h1v3h-1zM421 201h1v3h-1zM420 202h1v1h-1zM408 210h3v1h-3zM409 209h1v3h-1zM411 220h3v1h-3zM412 219h1v3h-1zM404 229h3v1h-3zM405 228h1v3h-1zM423 170h3v1h-3zM424 169h1v3h-1z"/>
<path fill="#00e0ff" d="M398 446h3v1h-3zM399 445h1v1h-1zM550 522h1v3h-1zM551 523h1v1h-1zM666 382h3v1h-3zM667 381h1v1h-1zM247 405h1v3h-1zM246 406h1v1h-1zM272 430h1v3h-1zM271 431h1v1h-1z"/>
<path fill="#0030ff" d="M592 453h3v1h-3zM593 452h1v3h-1zM666 456h3v1h-3zM667 455h1v3h-1zM233 368h3v1h-3zM234 367h1v3h-1zM251 387h3v1h-3zM252 386h1v3h-1zM313 438h3v1h-3zM314 437h1v3h-1zM291 441h3v1h-3zM292 440h1v3h-1zM296 438h3v1h-3zM297 437h1v3h-1zM277 445h3v1h-3zM278 444h1v3h-1zM295 264h3v1h-3zM296 263h1v3h-1zM309 278h3v1h-3zM310 277h1v3h-1zM320 255h3v1h-3zM321 256h1v1h-1zM317 272h3v1h-3zM318 273h1v1h-1zM311 279h3v1h-3zM312 278h1v3h-1zM308 265h3v1h-3zM309 264h1v3h-1zM316 273h1v3h-1zM315 274h1v1h-1zM93 487h1v3h-1zM92 488h1v1h-1zM105 491h1v3h-1zM104 492h1v1h-1zM106 490h3v1h-3zM107 489h1v3h-1zM102 486h3v1h-3zM103 485h1v1h-1zM230 419h3v1h-3zM231 418h1v3h-1zM234 404h1v3h-1zM233 405h1v1h-1zM234 372h3v1h-3zM235 371h1v3h-1zM230 390h3v1h-3zM231 389h1v1h-1zM233 379h3v1h-3zM234 378h1v3h-1zM233 374h3v1h-3zM234 373h1v3h-1zM233 394h3v1h-3zM234 395h1v1h-1zM224 386h3v1h-3zM225 385h1v3h-1zM229 408h3v1h-3zM230 407h1v1h-1zM225 390h3v1h-3zM226 389h1v3h-1zM238 385h3v1h-3zM239 384h1v3h-1zM233 409h3v1h-3zM234 408h1v3h-1zM232 411h3v1h-3zM233 410h1v3h-1zM229 386h3v1h-3zM230 385h1v3h-1zM229 382h3v1h-3zM230 383h1v1h-1zM236 385h3v1h-3zM237 384h1v1h-1zM237 388h3v1h-3zM238 387h1v3h-1zM235 407h3v1h-3zM236 406h1v3h-1zM212 428h3v1h-3zM213 427h1v3h-1zM215 431h3v1h-3zM216 432h1v1h-1zM218 413h3v1h-3zM219 414h1v1h-1zM213 414h3v1h-3zM214 413h1v3h-1zM212 412h3v1h-3zM213 411h1v3h-1zM216 413h1v3h-1zM215 414h1v1h-1zM263 434h3v1h-3zM264 433h1v3h-1zM258 432h3v1h-3zM259 431h1v3h-1zM272 430h3v1h-3zM273 429h1v1h-1zM268 429h3v1h-3zM269 428h1v3h-1zM272 439h1v3h-1zM271 440h1v1h-1zM266 440h3v1h-3zM267 439h1v3h-1z"/>
<path fill="#560086" d="M261 532h1v3h-1zM262 533h1v1h-1zM106 489h3v1h-3zM107 488h1v3h-1zM333 410h3v1h-3zM334 411h1v1h-1z"/>
<path fill="#00ffa0" d="M339 402h3v1h-3zM340 403h1v1h-1z"/>
<path fill="#0028ff" d="M238 223h1v3h-1zM237 224h1v1h-1zM240 222h3v1h-3zM241 221h1v3h-1zM241 228h1v3h-1zM242 229h1v1h-1zM243 222h1v3h-1zM242 223h1v1h-1zM244 243h3v1h-3zM245 242h1v3h-1zM238 247h3v1h-3zM239 246h1v3h-1zM243 236h3v1h-3zM244 235h1v3h-1zM239 250h3v1h-3zM240 251h1v1h-1zM237 240h3v1h-3zM238 239h1v3h-1zM235 243h3v1h-3zM236 242h1v3h-1zM232 217h3v1h-3zM233 216h1v3h-1zM241 219h3v1h-3zM242 218h1v3h-1zM242 231h3v1h-3zM243 230h1v3h-1zM238 226h3v1h-3zM239 225h1v3h-1zM241 238h3v1h-3zM242 237h1v3h-1zM239 219h3v1h-3zM240 218h1v3h-1zM243 238h3v1h-3zM244 237h1v3h-1zM232 231h3v1h-3zM233 230h1v3h-1zM240 253h3v1h-3zM241 252h1v3h-1zM237 253h3v1h-3zM238 252h1v3h-1zM241 261h3v1h-3zM242 260h1v1h-1zM247 263h3v1h-3zM248 262h1v3h-1zM244 255h1v3h-1zM245 256h1v1h-1zM237 256h3v1h-3zM238 255h1v3h-1zM249 270h1v3h-1zM250 271h1v1h-1zM251 269h3v1h-3zM252 268h1v3h-1zM243 264h3v1h-3zM244 263h1v1h-1zM250 271h3v1h-3zM251 270h1v3h-1zM279 264h3v1h-3zM280 263h1v3h-1zM283 271h1v3h-1zM282 272h1v1h-1zM283 268h3v1h-3zM284 269h1v1h-1zM277 265h3v1h-3zM278 264h1v3h-1zM251 273h3v1h-3zM252 272h1v3h-1zM272 266h3v1h-3zM273 265h1v3h-1zM286 277h3v1h-3zM287 276h1v3h-1zM261 264h3v1h-3zM262 263h1v3h-1zM280 280h3v1h-3zM281 279h1v1h-1zM280 271h3v1h-3zM281 270h1v3h-1zM285 280h3v1h-3zM286 279h1v3h-1zM254 274h1v3h-1zM253 275h1v1h-1zM286 267h3v1h-3zM287 266h1v3h-1zM284 271h3v1h-3zM285 272h1v1h-1zM269 265h3v1h-3zM270 264h1v3h-1zM261 277h3v1h-3zM262 276h1v3h-1zM283 273h1v3h-1zM284 274h1v1h-1zM267 279h3v1h-3zM268 280h1v1h-1zM255 273h3v1h-3zM256 274h1v1h-1zM272 275h3v1h-3zM273 274h1v3h-1zM260 273h3v1h-3zM261 272h1v1h-1zM268 276h3v1h-3zM269 275h1v3h-1zM252 271h3v1h-3zM253 272h1v1h-1zM277 277h3v1h-3zM278 276h1v3h-1zM286 279h3v1h-3zM287 278h1v3h-1zM277 274h1v3h-1zM276 275h1v1h-1zM271 274h1v3h-1zM270 275h1v1h-1z"/>
<path fill="#0048ff" d="M235 231h1v3h-1zM236 232h1v1h-1zM235 235h3v1h-3zM236 234h1v3h-1zM233 223h3v1h-3zM234 222h1v3h-1zM237 219h3v1h-3zM238 218h1v3h-1zM238 237h1v3h-1zM237 238h1v1h-1zM234 227h3v1h-3zM235 226h1v3h-1zM242 228h3v1h-3zM243 227h1v1h-1zM244 248h3v1h-3zM245 249h1v1h-1zM246 257h3v1h-3zM247 256h1v3h-1zM252 264h3v1h-3zM253 263h1v3h-1zM244 251h1v3h-1zM243 252h1v1h-1zM247 254h1v3h-1zM248 255h1v1h-1zM266 274h3v1h-3zM267 273h1v3h-1zM277 279h3v1h-3zM278 280h1v1h-1zM257 273h1v3h-1zM258 274h1v1h-1zM283 277h3v1h-3zM284 276h1v3h-1zM254 272h3v1h-3zM255 273h1v1h-1zM258 277h3v1h-3zM259 276h1v3h-1zM276 267h1v3h-1zM275 268h1v1h-1zM284 261h1v3h-1zM285 262h1v1h-1zM281 275h3v1h-3zM282 276h1v1h-1zM274 270h3v1h-3zM275 269h1v3h-1zM254 276h3v1h-3zM255 275h1v3h-1zM286 275h3v1h-3zM287 274h1v3h-1zM272 273h3v1h-3zM273 274h1v1h-1zM284 274h3v1h-3zM285 273h1v3h-1zM266 275h3v1h-3zM267 274h1v1h-1zM283 276h3v1h-3zM284 275h1v3h-1zM282 279h1v3h-1zM283 280h1v1h-1z"/>
<path fill="#00a8ff" d="M238 249h1v3h-1zM239 250h1v1h-1zM257 269h3v1h-3zM258 268h1v1h-1zM256 266h1v3h-1zM255 267h1v1h-1zM274 275h3v1h-3zM275 274h1v3h-1z"/>
<path fill="#4000c0" d="M242 245h3v1h-3zM243 246h1v1h-1zM251 261h3v1h-3zM252 260h1v3h-1z"/>
<path fill="#0070ff" d="M234 237h1v3h-1zM233 238h1v1h-1zM233 234h3v1h-3zM234 233h1v3h-1zM238 244h3v1h-3zM239 243h1v3h-1zM233 221h3v1h-3zM234 222h1v1h-1zM240 244h3v1h-3zM241 243h1v3h-1zM249 259h3v1h-3zM250 258h1v3h-1zM279 268h3v1h-3zM280 267h1v3h-1zM272 277h1v3h-1zM273 278h1v1h-1zM285 269h3v1h-3zM286 268h1v3h-1zM285 273h3v1h-3zM286 272h1v3h-1zM263 271h1v3h-1zM262 272h1v1h-1zM284 278h3v1h-3zM285 277h1v3h-1zM278 279h3v1h-3zM279 278h1v3h-1zM265 273h3v1h-3zM266 272h1v3h-1zM283 280h3v1h-3zM284 279h1v3h-1zM268 273h3v1h-3zM269 272h1v3h-1zM333 266h1v3h-1zM332 267h1v1h-1zM360 249h3v1h-3zM361 248h1v1h-1zM386 217h1v3h-1zM387 218h1v1h-1zM362 222h1v3h-1zM361 223h1v1h-1zM352 242h3v1h-3zM353 241h1v1h-1zM366 218h3v1h-3zM367 217h1v1h-1zM380 225h3v1h-3zM381 224h1v3h-1zM385 211h1v3h-1zM384 212h1v1h-1zM387 180h1v3h-1zM388 181h1v1h-1zM224 458h1v3h-1zM223 459h1v1h-1zM213 464h3v1h-3zM214 463h1v3h-1zM230 460h3v1h-3zM231 459h1v3h-1zM183 469h3v1h-3zM184 468h1v3h-1zM221 438h3v1h-3zM222 437h1v3h-1zM230 439h3v1h-3zM231 438h1v3h-1zM243 440h3v1h-3zM244 439h1v3h-1zM233 432h3v1h-3zM234 431h1v3h-1z"/>
<path fill="#2000f0" d="M240 235h3v1h-3zM241 234h1v3h-1zM234 218h3v1h-3zM235 217h1v3h-1zM262 277h3v1h-3zM263 276h1v3h-1zM265 264h3v1h-3zM266 265h1v1h-1zM264 262h1v3h-1zM263 263h1v1h-1zM278 270h3v1h-3zM279 269h1v3h-1zM259 265h1v3h-1zM260 266h1v1h-1zM261 268h1v3h-1zM262 269h1v1h-1zM283 274h3v1h-3zM284 275h1v1h-1zM271 275h3v1h-3zM272 274h1v3h-1zM266 278h1v3h-1zM265 279h1v1h-1zM268 262h3v1h-3zM269 261h1v3h-1zM318 276h3v1h-3zM319 275h1v3h-1zM304 269h1v3h-1zM305 270h1v1h-1zM318 255h3v1h-3zM319 254h1v3h-1zM311 265h1v3h-1zM310 266h1v1h-1zM328 269h3v1h-3zM329 268h1v3h-1zM313 269h3v1h-3zM314 268h1v3h-1zM310 274h3v1h-3zM311 273h1v3h-1zM325 262h1v3h-1zM324 263h1v1h-1zM313 276h1v3h-1zM312 277h1v1h-1zM317 262h3v1h-3zM318 261h1v3h-1zM302 277h1v3h-1zM303 278h1v1h-1zM328 254h3v1h-3zM329 253h1v3h-1zM329 271h1v3h-1zM330 272h1v1h-1zM321 276h3v1h-3zM322 275h1v3h-1zM321 273h3v1h-3zM322 272h1v3h-1zM352 252h3v1h-3zM353 251h1v1h-1zM349 256h3v1h-3zM350 255h1v3h-1zM345 259h3v1h-3zM346 258h1v3h-1zM345 261h1v3h-1zM344 262h1v1h-1zM347 260h3v1h-3zM348 259h1v3h-1zM343 259h1v3h-1zM344 260h1v1h-1zM347 258h3v1h-3zM348 257h1v3h-1zM332 268h1v3h-1zM333 269h1v1h-1zM336 268h3v1h-3zM337 267h1v3h-1zM347 256h3v1h-3zM348 255h1v3h-1zM334 271h1v3h-1zM333 272h1v1h-1zM357 236h3v1h-3zM358 235h1v3h-1zM374 237h3v1h-3zM375 236h1v3h-1zM361 226h3v1h-3zM362 225h1v3h-1zM380 207h3v1h-3zM381 206h1v3h-1zM384 205h3v1h-3zM385 204h1v1h-1zM350 251h3v1h-3zM351 250h1v3h-1zM368 245h3v1h-3zM369 244h1v3h-1zM359 230h3v1h-3zM360 231h1v1h-1zM372 196h3v1h-3zM373 195h1v3h-1zM363 228h1v3h-1zM364 229h1v1h-1zM350 248h3v1h-3zM351 247h1v3h-1zM365 215h3v1h-3zM366 214h1v1h-1zM364 217h3v1h-3zM365 216h1v3h-1zM365 209h3v1h-3zM366 208h1v1h-1zM363 223h3v1h-3zM364 222h1v3h-1zM383 209h1v3h-1zM382 210h1v1h-1zM381 230h3v1h-3zM382 229h1v3h-1zM382 214h3v1h-3zM383 213h1v3h-1zM383 228h3v1h-3zM384 227h1v3h-1zM379 222h3v1h-3zM380 223h1v1h-1zM385 195h3v1h-3zM386 194h1v3h-1zM383 216h3v1h-3zM384 215h1v3h-1zM388 175h3v1h-3zM389 176h1v1h-1zM377 192h3v1h-3zM378 193h1v1h-1zM391 180h3v1h-3zM392 179h1v1h-1zM392 183h1v3h-1zM391 184h1v1h-1zM384 197h3v1h-3zM385 196h1v3h-1zM387 169h3v1h-3zM388 168h1v3h-1zM383 185h3v1h-3zM384 184h1v3h-1zM102 489h1v3h-1zM103 490h1v1h-1zM218 464h3v1h-3zM219 465h1v1h-1zM168 466h3v1h-3zM169 465h1v3h-1zM195 465h3v1h-3zM196 466h1v1h-1zM175 466h3v1h-3zM176 465h1v3h-1zM242 457h3v1h-3zM243 456h1v1h-1zM244 457h3v1h-3zM245 456h1v3h-1zM234 459h3v1h-3zM235 458h1v3h-1zM166 466h3v1h-3zM167 465h1v3h-1zM209 465h3v1h-3zM210 464h1v3h-1zM177 467h3v1h-3zM178 468h1v1h-1zM180 468h1v3h-1zM181 469h1v1h-1zM216 460h3v1h-3zM217 459h1v3h-1zM224 462h3v1h-3zM225 463h1v1h-1zM242 460h1v3h-1zM241 461h1v1h-1zM172 468h3v1h-3zM173 469h1v1h-1zM239 457h3v1h-3zM240 456h1v3h-1zM220 461h1v3h-1zM219 462h1v1h-1zM246 460h3v1h-3zM247 459h1v3h-1zM225 405h3v1h-3zM226 406h1v1h-1zM226 399h1v3h-1zM227 400h1v1h-1zM229 412h3v1h-3zM230 411h1v1h-1zM232 392h3v1h-3zM233 393h1v1h-1zM229 405h3v1h-3zM230 404h1v3h-1zM233 401h1v3h-1zM232 402h1v1h-1zM215 429h3v1h-3zM216 428h1v3h-1zM223 422h3v1h-3zM224 421h1v3h-1zM217 427h3v1h-3zM218 426h1v3h-1zM214 426h3v1h-3zM215 425h1v3h-1zM217 415h3v1h-3zM218 414h1v1h-1zM235 439h3v1h-3zM236 438h1v3h-1zM229 439h1v3h-1zM228 440h1v1h-1zM228 438h3v1h-3zM229 437h1v3h-1zM249 437h3v1h-3zM250 436h1v3h-1zM232 444h3v1h-3zM233 443h1v3h-1zM285 440h3v1h-3zM286 439h1v1h-1zM285 438h3v1h-3zM286 437h1v3h-1zM277 442h3v1h-3zM278 441h1v3h-1zM273 439h3v1h-3zM274 438h1v3h-1zM231 425h3v1h-3zM232 424h1v3h-1z"/>
<path fill="#0020ff" d="M292 281h3v1h-3zM293 280h1v3h-1zM296 277h1v3h-1zM295 278h1v1h-1zM299 275h3v1h-3zM300 276h1v1h-1zM298 270h3v1h-3zM299 269h1v3h-1zM297 283h3v1h-3zM298 282h1v3h-1zM296 273h3v1h-3zM297 272h1v3h-1zM296 274h1v3h-1zM297 275h1v1h-1zM293 275h3v1h-3zM294 274h1v3h-1z"/>
<path fill="#00d8ff" d="M293 273h3v1h-3zM294 272h1v1h-1zM300 281h3v1h-3zM301 280h1v3h-1z"/>
<path fill="#0090ff" d="M295 280h1v3h-1zM294 281h1v1h-1zM293 271h3v1h-3zM294 270h1v3h-1zM299 279h3v1h-3zM300 278h1v3h-1zM295 283h3v1h-3zM296 284h1v1h-1zM290 274h3v1h-3zM291 273h1v3h-1zM290 277h3v1h-3zM291 276h1v3h-1z"/>
<path fill="#0060ff" d="M298 277h3v1h-3zM299 276h1v3h-1zM295 271h3v1h-3zM296 270h1v1h-1z"/>
<path fill="#00b0ff" d="M297 281h3v1h-3zM298 280h1v3h-1zM298 273h3v1h-3zM299 272h1v3h-1zM98 494h3v1h-3zM99 493h1v3h-1zM232 396h1v3h-1zM231 397h1v1h-1zM235 389h3v1h-3zM236 388h1v3h-1zM205 430h3v1h-3zM206 429h1v1h-1z"/>
<path fill="#5800a0" d="M301 267h3v1h-3zM302 266h1v3h-1zM315 264h3v1h-3zM316 263h1v1h-1zM310 263h3v1h-3zM311 262h1v3h-1zM305 269h3v1h-3zM306 268h1v3h-1zM320 263h3v1h-3zM321 262h1v3h-1zM322 266h3v1h-3zM323 265h1v3h-1zM301 275h3v1h-3zM302 276h1v1h-1zM324 271h3v1h-3zM325 270h1v3h-1zM361 224h3v1h-3zM362 223h1v3h-1zM388 192h3v1h-3zM389 193h1v1h-1zM387 142h3v1h-3zM388 141h1v3h-1zM382 195h3v1h-3zM383 194h1v3h-1zM380 196h1v3h-1zM381 197h1v1h-1zM221 457h1v3h-1zM222 458h1v1h-1zM235 434h3v1h-3zM236 433h1v3h-1z"/>
<path fill="#3800d0" d="M313 266h3v1h-3zM314 265h1v1h-1zM323 256h3v1h-3zM324 255h1v3h-1zM328 263h1v3h-1zM327 264h1v1h-1zM320 257h1v3h-1zM321 258h1v1h-1zM303 266h3v1h-3zM304 265h1v3h-1zM322 254h3v1h-3zM323 253h1v1h-1zM313 264h3v1h-3zM314 263h1v1h-1zM307 277h3v1h-3zM308 276h1v3h-1zM310 261h3v1h-3zM311 260h1v3h-1zM322 264h3v1h-3zM323 263h1v3h-1zM322 260h3v1h-3zM323 259h1v3h-1zM326 258h3v1h-3zM327 257h1v3h-1zM300 270h3v1h-3zM301 269h1v3h-1zM319 268h3v1h-3zM320 269h1v1h-1zM305 276h3v1h-3zM306 275h1v1h-1zM306 282h3v1h-3zM307 281h1v1h-1zM315 270h3v1h-3zM316 271h1v1h-1zM308 267h3v1h-3zM309 268h1v1h-1zM306 272h3v1h-3zM307 271h1v3h-1zM325 257h1v3h-1zM324 258h1v1h-1zM320 261h3v1h-3zM321 260h1v3h-1zM312 271h3v1h-3zM313 270h1v3h-1zM324 254h3v1h-3zM325 253h1v3h-1zM106 487h3v1h-3zM107 486h1v3h-1zM236 379h3v1h-3zM237 378h1v3h-1zM274 437h3v1h-3zM275 436h1v3h-1z"/>
<path fill="#4800b8" d="M325 267h3v1h-3zM326 266h1v3h-1zM317 264h3v1h-3zM318 263h1v3h-1zM320 271h3v1h-3zM321 270h1v3h-1zM324 274h3v1h-3zM325 273h1v3h-1zM327 270h1v3h-1zM328 271h1v1h-1zM309 280h3v1h-3zM310 279h1v3h-1zM328 260h3v1h-3zM329 259h1v3h-1zM327 262h3v1h-3zM328 261h1v3h-1zM305 274h3v1h-3zM306 275h1v1h-1zM305 264h3v1h-3zM306 265h1v1h-1zM308 260h3v1h-3zM309 259h1v3h-1zM309 270h3v1h-3zM310 269h1v3h-1zM317 257h3v1h-3zM318 256h1v3h-1zM305 266h3v1h-3zM306 265h1v3h-1zM313 279h3v1h-3zM314 278h1v3h-1zM318 273h1v3h-1zM319 274h1v1h-1zM328 266h3v1h-3zM329 265h1v3h-1zM310 272h3v1h-3zM311 271h1v1h-1zM360 253h3v1h-3zM361 252h1v3h-1zM360 220h3v1h-3zM361 219h1v3h-1zM370 196h3v1h-3zM371 195h1v3h-1zM350 249h1v3h-1zM349 250h1v1h-1zM382 212h3v1h-3zM383 211h1v3h-1zM387 190h3v1h-3zM388 191h1v1h-1zM382 232h3v1h-3zM383 231h1v3h-1zM377 197h3v1h-3zM378 196h1v3h-1zM170 468h3v1h-3zM171 467h1v3h-1zM203 463h1v3h-1zM204 464h1v1h-1zM246 458h3v1h-3zM247 457h1v1h-1zM234 461h3v1h-3zM235 460h1v3h-1zM243 460h3v1h-3zM244 459h1v1h-1zM175 467h1v3h-1zM174 468h1v1h-1zM182 464h3v1h-3zM183 463h1v3h-1zM176 464h3v1h-3zM177 463h1v3h-1zM232 437h3v1h-3zM233 436h1v3h-1z"/>
<path fill="#0024ff" d="M331 271h3v1h-3zM332 270h1v3h-1zM357 254h3v1h-3zM358 253h1v3h-1zM340 262h3v1h-3zM341 261h1v3h-1zM352 257h3v1h-3zM353 256h1v3h-1zM338 267h3v1h-3zM339 266h1v3h-1zM354 253h3v1h-3zM355 252h1v3h-1zM357 251h3v1h-3zM358 250h1v3h-1zM356 245h3v1h-3zM357 244h1v3h-1zM362 235h3v1h-3zM363 234h1v1h-1zM378 213h3v1h-3zM379 212h1v3h-1zM358 243h3v1h-3zM359 242h1v3h-1zM356 250h3v1h-3zM357 249h1v3h-1zM374 232h3v1h-3zM375 231h1v3h-1zM360 228h3v1h-3zM361 227h1v3h-1zM373 189h3v1h-3zM374 188h1v3h-1zM368 209h3v1h-3zM369 208h1v3h-1zM372 198h3v1h-3zM373 197h1v3h-1zM373 192h3v1h-3zM374 193h1v1h-1zM358 225h3v1h-3zM359 224h1v3h-1zM357 235h1v3h-1zM356 236h1v1h-1zM372 202h1v3h-1zM371 203h1v1h-1zM352 247h3v1h-3zM353 248h1v1h-1zM385 217h1v3h-1zM386 218h1v1h-1zM380 213h3v1h-3zM381 214h1v1h-1zM378 231h3v1h-3zM379 230h1v3h-1zM388 150h3v1h-3zM389 149h1v3h-1zM389 164h3v1h-3zM390 163h1v3h-1zM386 166h3v1h-3zM387 165h1v3h-1zM390 168h3v1h-3zM391 169h1v1h-1zM376 199h3v1h-3zM377 198h1v3h-1zM211 465h3v1h-3zM212 464h1v3h-1zM181 470h3v1h-3zM182 469h1v3h-1zM212 461h3v1h-3zM213 460h1v3h-1zM169 464h3v1h-3zM170 463h1v3h-1zM166 468h3v1h-3zM167 467h1v3h-1zM243 455h3v1h-3zM244 454h1v3h-1zM182 466h3v1h-3zM183 465h1v3h-1zM194 467h3v1h-3zM195 466h1v3h-1zM226 463h3v1h-3zM227 462h1v1h-1zM205 466h3v1h-3zM206 465h1v3h-1zM184 464h3v1h-3zM185 465h1v1h-1zM177 470h3v1h-3zM178 471h1v1h-1zM228 462h3v1h-3zM229 461h1v3h-1zM174 465h1v3h-1zM173 466h1v1h-1zM192 464h3v1h-3zM193 463h1v3h-1zM186 468h1v3h-1zM187 469h1v1h-1zM245 440h3v1h-3zM246 439h1v3h-1zM229 444h3v1h-3zM230 443h1v3h-1zM241 438h1v3h-1zM240 439h1v1h-1zM240 442h3v1h-3zM241 441h1v3h-1zM224 434h3v1h-3zM225 433h1v3h-1zM222 435h3v1h-3zM223 434h1v3h-1z"/>
<path fill="#00a0ff" d="M341 264h3v1h-3zM342 263h1v1h-1zM339 263h1v3h-1zM338 264h1v1h-1zM329 269h3v1h-3zM330 270h1v1h-1zM358 229h1v3h-1zM357 230h1v1h-1zM379 219h3v1h-3zM380 218h1v3h-1zM386 156h3v1h-3zM387 155h1v3h-1zM390 146h3v1h-3zM391 145h1v3h-1zM385 161h3v1h-3zM386 160h1v3h-1zM178 465h3v1h-3zM179 464h1v3h-1zM226 461h3v1h-3zM227 460h1v1h-1zM260 432h3v1h-3zM261 431h1v3h-1zM271 428h1v3h-1zM272 429h1v1h-1zM257 431h1v3h-1zM258 432h1v1h-1z"/>
<path fill="#0044ff" d="M345 256h3v1h-3zM346 257h1v1h-1zM355 251h3v1h-3zM356 250h1v3h-1zM351 255h3v1h-3zM352 256h1v1h-1zM333 270h3v1h-3zM334 271h1v1h-1zM353 255h3v1h-3zM354 254h1v3h-1zM381 209h3v1h-3zM382 208h1v3h-1zM371 201h1v3h-1zM370 202h1v1h-1zM377 229h3v1h-3zM378 228h1v3h-1zM373 213h3v1h-3zM374 212h1v3h-1zM376 233h3v1h-3zM377 232h1v3h-1zM358 232h3v1h-3zM359 231h1v3h-1zM369 211h3v1h-3zM370 210h1v1h-1zM363 243h3v1h-3zM364 242h1v3h-1zM362 241h3v1h-3zM363 240h1v3h-1zM367 233h3v1h-3zM368 232h1v3h-1zM367 230h1v3h-1zM366 231h1v1h-1zM365 242h3v1h-3zM366 241h1v3h-1zM359 223h3v1h-3zM360 222h1v1h-1zM365 211h3v1h-3zM366 210h1v3h-1zM370 199h3v1h-3zM371 198h1v3h-1zM359 234h1v3h-1zM360 235h1v1h-1zM385 199h3v1h-3zM386 198h1v3h-1zM385 207h3v1h-3zM386 206h1v3h-1zM384 229h1v3h-1zM383 230h1v1h-1zM387 147h1v3h-1zM388 148h1v1h-1zM387 144h1v3h-1zM386 145h1v1h-1zM388 188h3v1h-3zM389 187h1v3h-1zM388 146h3v1h-3zM389 145h1v3h-1zM384 151h3v1h-3zM385 150h1v1h-1zM383 160h3v1h-3zM384 159h1v3h-1zM390 154h3v1h-3zM391 153h1v3h-1zM389 138h3v1h-3zM390 137h1v3h-1zM390 156h1v3h-1zM389 157h1v1h-1zM384 143h3v1h-3zM385 142h1v3h-1zM383 173h1v3h-1zM384 174h1v1h-1zM387 198h3v1h-3zM388 199h1v1h-1zM390 180h1v3h-1zM389 181h1v1h-1zM381 182h3v1h-3zM382 181h1v1h-1zM391 173h3v1h-3zM392 172h1v3h-1zM384 191h3v1h-3zM385 190h1v3h-1zM382 196h1v3h-1zM383 197h1v1h-1zM199 466h1v3h-1zM198 467h1v1h-1zM197 467h1v3h-1zM196 468h1v1h-1zM248 459h3v1h-3zM249 458h1v3h-1zM188 464h3v1h-3zM189 463h1v3h-1zM223 457h3v1h-3zM224 456h1v3h-1zM202 466h3v1h-3zM203 465h1v3h-1zM248 440h3v1h-3zM249 439h1v1h-1zM247 443h3v1h-3zM248 444h1v1h-1zM247 436h3v1h-3zM248 435h1v3h-1zM232 422h1v3h-1zM231 423h1v1h-1z"/>
<path fill="#3000dc" d="M348 254h3v1h-3zM349 253h1v3h-1zM330 273h3v1h-3zM331 272h1v3h-1zM346 262h3v1h-3zM347 261h1v3h-1zM371 205h1v3h-1zM370 206h1v1h-1zM378 227h3v1h-3zM379 226h1v3h-1zM353 244h3v1h-3zM354 243h1v1h-1zM373 204h1v3h-1zM374 205h1v1h-1zM366 212h1v3h-1zM365 213h1v1h-1zM352 251h3v1h-3zM353 250h1v3h-1zM356 239h3v1h-3zM357 238h1v1h-1zM368 200h3v1h-3zM369 199h1v3h-1zM355 233h3v1h-3zM356 232h1v1h-1zM367 215h3v1h-3zM368 216h1v1h-1zM381 221h3v1h-3zM382 220h1v3h-1zM384 194h1v3h-1zM385 195h1v1h-1zM384 203h3v1h-3zM385 202h1v3h-1zM382 226h1v3h-1zM383 227h1v1h-1zM386 193h3v1h-3zM387 192h1v3h-1zM385 163h3v1h-3zM386 162h1v3h-1zM222 461h3v1h-3zM223 460h1v3h-1zM232 462h3v1h-3zM233 461h1v3h-1zM208 463h3v1h-3zM209 462h1v3h-1zM171 466h3v1h-3zM172 467h1v1h-1zM229 458h3v1h-3zM230 457h1v3h-1zM180 466h3v1h-3zM181 465h1v3h-1zM239 461h3v1h-3zM240 460h1v1h-1zM201 460h1v3h-1zM202 461h1v1h-1zM192 468h3v1h-3zM193 467h1v3h-1zM202 462h3v1h-3zM203 461h1v3h-1zM232 457h3v1h-3zM233 456h1v3h-1zM252 454h1v3h-1zM251 455h1v1h-1zM226 437h3v1h-3zM227 436h1v3h-1zM228 435h3v1h-3zM229 434h1v3h-1zM235 442h3v1h-3zM236 441h1v3h-1zM237 438h3v1h-3zM238 437h1v3h-1zM220 434h3v1h-3zM221 435h1v1h-1z"/>
<path fill="#ffc000" d="M402 220h1v3h-1zM403 221h1v1h-1zM417 157h3v1h-3zM418 156h1v3h-1z"/>
<path fill="#2000e0" d="M414 174h1v3h-1zM413 175h1v1h-1zM414 220h3v1h-3zM415 219h1v3h-1z"/>
<path fill="#d8ff00" d="M421 195h3v1h-3zM422 196h1v1h-1zM406 208h3v1h-3zM407 207h1v3h-1zM424 174h3v1h-3zM425 173h1v3h-1zM420 204h3v1h-3zM421 203h1v3h-1zM421 155h3v1h-3zM422 154h1v3h-1zM408 208h3v1h-3zM409 207h1v3h-1zM421 160h3v1h-3zM422 159h1v3h-1zM416 162h3v1h-3zM417 161h1v3h-1zM422 181h1v3h-1zM423 182h1v1h-1zM418 159h1v3h-1zM417 160h1v1h-1zM407 209h1v3h-1zM406 210h1v1h-1zM416 174h3v1h-3zM417 173h1v3h-1zM414 192h3v1h-3zM415 191h1v1h-1zM398 229h3v1h-3zM399 228h1v3h-1zM415 183h3v1h-3zM416 182h1v3h-1zM418 178h3v1h-3zM419 177h1v3h-1zM411 195h3v1h-3zM412 194h1v3h-1zM410 218h3v1h-3zM411 217h1v3h-1zM414 209h3v1h-3zM415 208h1v1h-1zM412 218h3v1h-3zM413 217h1v3h-1zM397 238h1v3h-1zM398 239h1v1h-1zM415 202h3v1h-3zM416 201h1v3h-1zM396 230h3v1h-3zM397 229h1v1h-1z"/>
<path fill="#ff9000" d="M402 225h3v1h-3zM403 224h1v3h-1zM398 231h3v1h-3zM399 230h1v3h-1zM406 205h3v1h-3zM407 206h1v1h-1zM416 208h3v1h-3zM417 207h1v1h-1z"/>
<path fill="#8cff00" d="M414 212h3v1h-3zM415 213h1v1h-1zM415 188h3v1h-3zM416 187h1v3h-1zM401 226h1v3h-1zM402 227h1v1h-1zM419 165h3v1h-3zM420 164h1v3h-1zM414 180h3v1h-3zM415 179h1v3h-1zM409 204h3v1h-3zM410 203h1v3h-1zM418 172h3v1h-3zM419 171h1v3h-1zM418 188h3v1h-3zM419 187h1v3h-1zM421 198h3v1h-3zM422 197h1v1h-1z"/>
<path fill="#ffe800" d="M404 224h3v1h-3zM405 223h1v3h-1zM419 158h3v1h-3zM420 157h1v3h-1zM419 195h3v1h-3zM420 194h1v3h-1zM399 216h3v1h-3zM400 215h1v1h-1zM407 199h3v1h-3zM408 200h1v1h-1zM401 213h3v1h-3zM402 214h1v1h-1zM421 166h3v1h-3zM422 167h1v1h-1zM421 149h1v3h-1zM422 150h1v1h-1zM404 232h3v1h-3zM405 231h1v3h-1zM418 211h3v1h-3zM419 210h1v3h-1zM424 172h3v1h-3zM425 173h1v1h-1zM408 225h3v1h-3zM409 224h1v3h-1z"/>
<path fill="#50ff00" d="M415 159h3v1h-3zM416 158h1v3h-1zM416 220h3v1h-3zM417 219h1v3h-1zM412 199h3v1h-3zM413 198h1v3h-1z"/>
<path fill="#ff4000" d="M419 160h3v1h-3zM420 159h1v3h-1z"/>
<path fill="#0050ff" d="M90 493h3v1h-3zM91 492h1v3h-1zM108 486h3v1h-3zM109 487h1v1h-1zM105 489h1v3h-1zM106 490h1v1h-1zM231 408h3v1h-3zM232 407h1v3h-1zM233 400h3v1h-3zM234 401h1v1h-1zM230 380h3v1h-3zM231 379h1v3h-1zM231 387h3v1h-3zM232 386h1v1h-1zM237 383h3v1h-3zM238 382h1v3h-1zM232 419h3v1h-3zM233 418h1v3h-1zM227 407h3v1h-3zM228 406h1v3h-1zM220 428h3v1h-3zM221 429h1v1h-1zM204 433h3v1h-3zM205 432h1v3h-1zM227 421h3v1h-3zM228 420h1v3h-1zM218 429h3v1h-3zM219 428h1v1h-1zM210 430h3v1h-3zM211 429h1v3h-1zM220 417h3v1h-3zM221 418h1v1h-1zM215 418h3v1h-3zM216 417h1v1h-1zM213 416h3v1h-3zM214 415h1v3h-1zM283 442h3v1h-3zM284 441h1v3h-1zM269 437h3v1h-3zM270 436h1v3h-1z"/>
</svg>
<div class="t" id="t1" style="left:251px;top:29.5px;font-size:12.8px;letter-spacing:1.37px;">Tromsø 20120909 04:06:00−04:07:43</div>
<div class="t" id="t2" style="left:332px;top:41.5px;font-size:12.8px;letter-spacing:1.2px;">RwPretec (8p)</div>
<div class="t" id="p1" style="left:631.5px;top:23.7px;font-size:9.8px;letter-spacing:0.25px;">Phases</div>
<div class="t" id="p2" style="left:608.3px;top:34.6px;font-size:9.8px;letter-spacing:0.4px;">mean, sd,O:</div>
<div class="t" id="p2b" style="left:669.5px;top:34.6px;font-size:9.8px;letter-spacing:0.7px;">−99.2,</div>
<div class="t" id="p2c" style="left:705.3px;top:34.6px;font-size:9.8px;letter-spacing:0.6px;">16.2</div>
<div class="t" id="p3" style="left:608.3px;top:45.5px;font-size:9.8px;letter-spacing:0.4px;">mean, sd,X:</div>
<div class="t" id="p3b" style="left:672.7px;top:45.5px;font-size:9.8px;letter-spacing:0.7px;">81.6,</div>
<div class="t" id="p3c" style="left:702.2px;top:45.5px;font-size:9.8px;letter-spacing:0.6px;">19.7</div>
<div class="t" id="deg" style="left:716.8px;top:71.5px;font-size:14.5px;letter-spacing:0.9px;">[deg]</div>
<div class="cb"></div>
<div class="t" id="c1" style="left:746.7px;top:179px;font-size:11.2px;letter-spacing:0.9px;">100</div>
<div class="t" id="c2" style="left:746.5px;top:295px;font-size:11.2px;letter-spacing:0.9px;">0</div>
<div class="t" id="c3" style="left:747.3px;top:412px;font-size:11.2px;letter-spacing:1.1px;">−100</div>
<div class="yl" style="top:57.5px;">750</div>
<div class="yl" style="top:101.5px;">600</div>
<div class="yl" style="top:139.5px;">500</div>
<div class="yl" style="top:185.5px;">400</div>
<div class="yl" style="top:245.5px;">300</div>
<div class="yl" style="top:330.5px;">200</div>
<div class="yl" style="top:474.5px;">100</div>
<div class="yl" style="top:530.5px;">75</div>
<div class="xl" style="left:59.5px;">1</div>
<div class="xl" style="left:210px;">2</div>
<div class="xl" style="left:360px;">4</div>
<div class="xl" style="left:448px;">6</div>
<div class="xl" style="left:510px;">8</div>
<div class="xl" style="left:558px;">10</div>
<div class="xl" style="left:660px;">16</div>
<div class="t" id="xt" style="left:335px;top:557.5px;font-size:11.2px;letter-spacing:0.28px;">Frequency <b>[</b>MHz]</div>
<div class="t" id="yt" style="left:37px;top:399px;font-size:11.2px;letter-spacing:0.55px;transform-origin:0 0;transform:rotate(-90deg);">Stationary phase Virtual Height <b>[</b>km]</div>
</body></html>
